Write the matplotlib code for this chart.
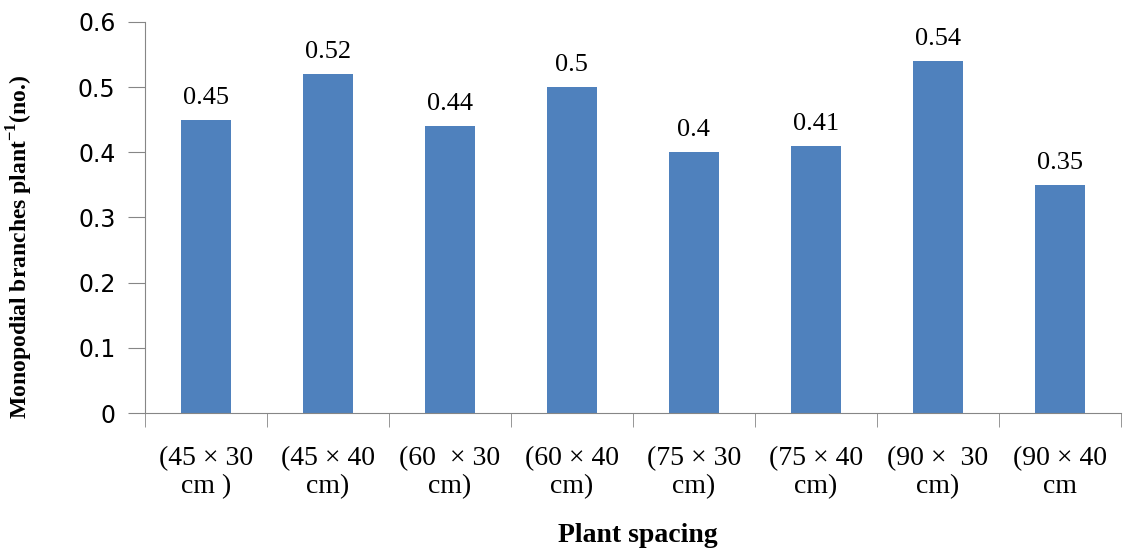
import matplotlib
matplotlib.use("Agg")
import matplotlib.pyplot as plt

plt.rcParams["mathtext.fontset"] = "custom"
plt.rcParams["mathtext.rm"] = "Liberation Serif"
plt.rcParams["mathtext.bf"] = "Liberation Serif:bold"

categories = ["(45 × 30\ncm )", "(45 × 40\ncm)", "(60  × 30\ncm)", "(60 × 40\ncm)",
              "(75 × 30\ncm)", "(75 × 40\ncm)", "(90 ×  30\ncm)", "(90 × 40\ncm"]
values = [0.45, 0.52, 0.44, 0.50, 0.40, 0.41, 0.54, 0.35]
value_labels = ["0.45", "0.52", "0.44", "0.5", "0.4", "0.41", "0.54", "0.35"]
yticks = [0, 0.1, 0.2, 0.3, 0.4, 0.5, 0.6]
ytick_labels = ["0", "0.1", "0.2", "0.3", "0.4", "0.5", "0.6"]

fig = plt.figure(figsize=(11.3, 5.54), dpi=100)
ax = fig.add_axes([0.128, 0.2545, 0.864, 0.706])

x = list(range(len(categories)))
ax.bar(x, values, width=0.41, color="#4F81BD", zorder=2)
for xi, v, lab in zip(x, values, value_labels):
    ax.annotate(lab, (xi, v), xytext=(0, 8), textcoords="offset points",
                ha="center", va="bottom", family="Liberation Serif", fontsize=19)

ax.set_xlim(-0.5, len(categories) - 0.5)
ax.set_ylim(0, 0.6)
ax.set_yticks(yticks)
ax.set_yticklabels(ytick_labels, family="DejaVu Sans", fontsize=17)
ax.set_xticks(x)
ax.set_xticklabels(categories, family="Liberation Serif", fontsize=20, linespacing=1.15)
ax.tick_params(axis="x", length=0, pad=24)
ax.tick_params(axis="y", length=12, color="#868686", pad=9)
ax.set_xticks([i - 0.5 for i in range(len(categories) + 1)], minor=True)
ax.tick_params(axis="x", which="minor", length=10, color="#868686")

for s in ["top", "right"]:
    ax.spines[s].set_visible(False)
for s in ["left", "bottom"]:
    ax.spines[s].set_color("#868686")

ax.set_ylabel(r"Monopodial branches plant$^{\mathbf{-1}}$(no.)", family="Liberation Serif",
              fontweight="bold", fontsize=17)
ax.yaxis.set_label_coords(-0.112, 0.425)
ax.set_xlabel("Plant spacing", family="Liberation Serif", fontweight="bold", fontsize=20)
ax.xaxis.set_label_coords(0.505, -0.28)

fig.savefig("out.png", dpi=100)
